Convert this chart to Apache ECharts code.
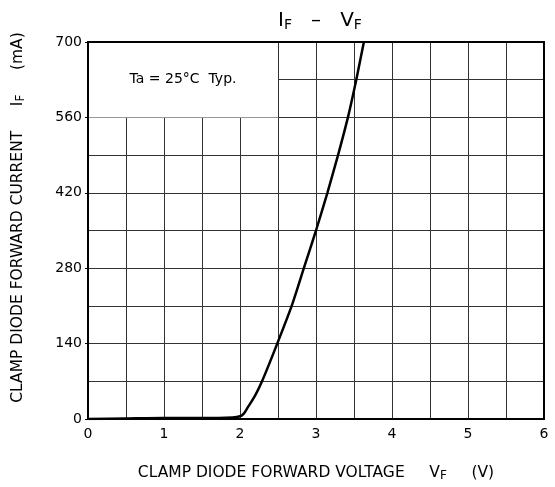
<!DOCTYPE html>
<html>
<head>
<meta charset="utf-8">
<script src="https://cdn.jsdelivr.net/npm/echarts@6/dist/echarts.min.js"></script>
<style>
  html, body { margin: 0; padding: 0; background: #fff; }
  #chart { width: 555px; height: 487px; }
</style>
</head>
<body>
<div id="chart"></div>
<script>
// forward voltage (V) / forward current (mA)
const vf = [0, 0.5, 1.0, 1.5, 1.9, 2.0, 2.05, 2.1, 2.2, 2.29, 2.49, 2.68, 2.84, 3.0, 3.15, 3.29, 3.42, 3.53, 3.63];
const iF = [0, 1, 2, 2, 3, 5, 10, 21, 44, 70, 140, 210, 280, 350, 420, 490, 560, 630, 700];
const xTicks = [0, 1, 2, 3, 4, 5, 6];
const yTicks = [0, 140, 280, 420, 560, 700];

const font = 'DejaVu Sans';
const chart = echarts.init(document.getElementById('chart'));

const option = {
  animation: false,
  title: {
    text: '{m|I}{s|F}{m|   –   V}{s|F}',
    left: 315,
    textAlign: 'center',
    top: 4,
    textStyle: {
      fontWeight: 'normal',
      rich: {
        m: { fontFamily: font, fontSize: 20, color: '#000' },
        s: { fontFamily: font, fontSize: 14, color: '#000', padding: [9, 0, 0, 0] }
      }
    }
  },
  grid: {
    left: 88, right: 11, top: 42, bottom: 66,
    show: true, z: 10,
    backgroundColor: 'transparent',
    borderColor: '#000', borderWidth: 2
  },
  xAxis: {
    type: 'value',
    min: 0, max: 6, interval: 1,
    name: '{t|CLAMP DIODE FORWARD VOLTAGE     V}{s|F}{t|     (V)}',
    nameLocation: 'middle',
    nameGap: 44,
    nameTextStyle: {
      rich: {
        t: { fontFamily: font, fontSize: 15.5, color: '#000' },
        s: { fontFamily: font, fontSize: 12, color: '#000', padding: [7, 0, 0, 0] }
      }
    },
    axisLine: { show: true, lineStyle: { color: '#000', width: 2 } },
    axisTick: { show: false },
    axisLabel: {
      fontFamily: font, fontSize: 14, color: '#000', margin: 8,
      formatter: v => xTicks.includes(v) ? String(v) : ''
    },
    splitLine: { show: true, lineStyle: { color: '#333', width: 1 } },
    minorTick: { show: false, splitNumber: 2 },
    minorSplitLine: { show: true, lineStyle: { color: '#333', width: 1 } }
  },
  yAxis: {
    type: 'value',
    min: 0, max: 700, interval: 140,
    name: '{t|CLAMP DIODE FORWARD CURRENT     I}{s|F}{t|     (mA)}',
    nameLocation: 'middle',
    nameRotate: 90,
    nameGap: 61,
    nameTextStyle: {
      padding: [0, 0, 0, 26],
      rich: {
        t: { fontFamily: font, fontSize: 15.5, color: '#000' },
        s: { fontFamily: font, fontSize: 12, color: '#000', padding: [7, 0, 0, 0] }
      }
    },
    axisLine: { show: true, lineStyle: { color: '#000', width: 2 } },
    axisTick: { show: true, length: 3, lineStyle: { color: '#000' } },
    axisLabel: {
      fontFamily: font, fontSize: 14, color: '#000', margin: 6,
      formatter: v => yTicks.includes(v) ? String(v) : ''
    },
    splitLine: { show: true, lineStyle: { color: '#333', width: 1 } },
    minorTick: { show: false, splitNumber: 2 },
    minorSplitLine: { show: true, lineStyle: { color: '#333', width: 1 } }
  },
  series: [{
    type: 'line',
    data: vf.map((v, i) => [v, iF[i]]),
    showSymbol: false,
    smooth: 0.25,
    lineStyle: { color: '#000', width: 2.5 },
    markArea: {
      silent: true,
      itemStyle: { color: '#fff', borderWidth: 0 },
      label: {
        show: true, position: 'inside',
        fontFamily: font, fontSize: 14, color: '#000',
        padding: [4, 0, 0, 0],
        formatter: 'Ta = 25°C  Typ.'
      },
      data: [[{ coord: [0, 560] }, { coord: [2.5, 700] }]]
    }
  }]
};

chart.setOption(option);
</script>
</body>
</html>
